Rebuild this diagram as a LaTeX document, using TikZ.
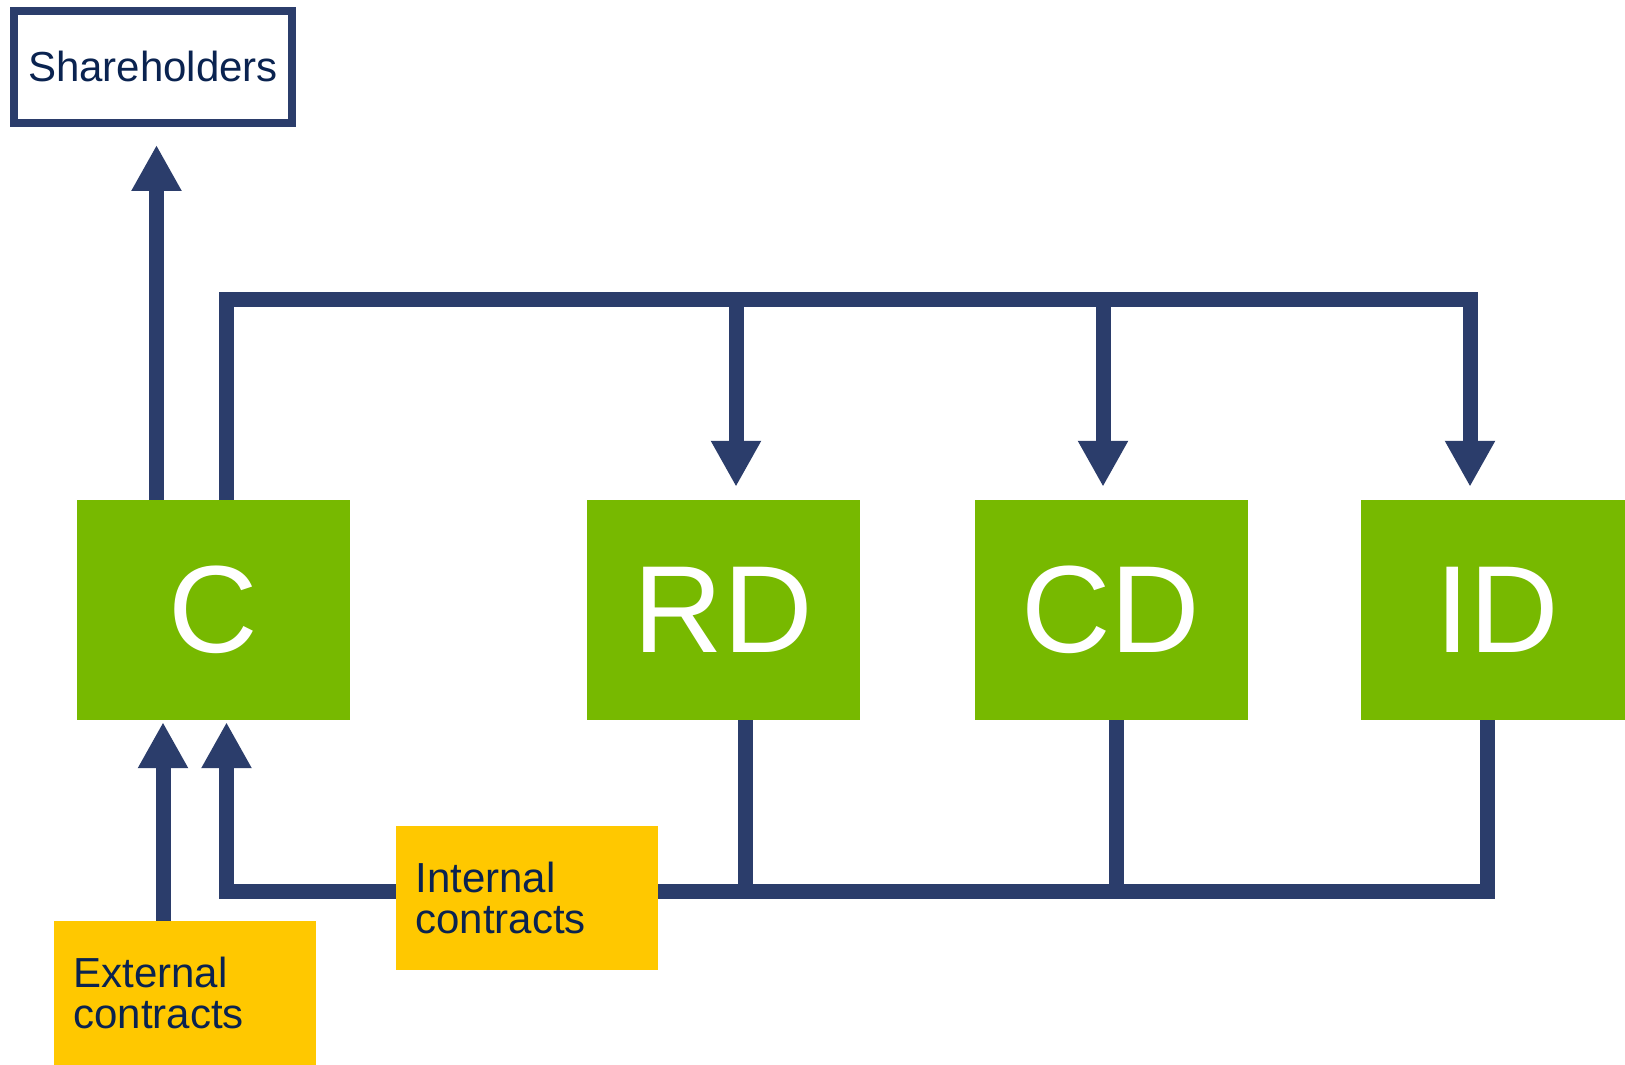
\documentclass[tikz,border=0pt]{standalone}
\usepackage{fontspec}
\setmainfont{Liberation Sans}
\usetikzlibrary{arrows.meta,calc}
\definecolor{linenavy}{RGB}{43,61,107}
\definecolor{textnavy}{RGB}{10,35,80}
\definecolor{unitgreen}{RGB}{119,185,0}
\definecolor{contractyellow}{RGB}{255,200,0}

\begin{document}
\begin{tikzpicture}[x=1pt, y=1pt,
    unit/.style={fill=unitgreen, text=white, minimum width=273pt, minimum height=220pt,
        inner sep=0pt, font=\fontsize{124pt}{124pt}\selectfont},
    contract/.style={fill=contractyellow, text=textnavy, text width=222pt, inner xsep=20pt,
        inner ysep=0pt, minimum height=144pt, align=left, font=\fontsize{42pt}{41pt}\selectfont},
    bus/.style={draw=linenavy, line width=15pt, line join=miter},
    flow/.style={bus, -{Triangle[width=47pt, length=46pt]}}]
    \path[use as bounding box, fill=white] (0,0) rectangle (1625,1065);

    % business units
    \node[unit] (C) at (213.5,455) {C};
    \node[unit] (RD) at (723.5,455) {RD};
    \node[unit] (CD) at (1111,455) {CD};
    \node[unit] (ID) at (1497.5,455) {ID};
    \node[draw=linenavy, line width=8pt, minimum width=278pt, minimum height=112pt, inner sep=0pt,
        text=textnavy, font=\fontsize{42pt}{42pt}\selectfont] (share) at (153,998) {Shareholders};

    % C to shareholders
    \draw[flow] ([xshift=-57pt]C.north) -- ([xshift=3.5pt, yshift=-18pt]share.south);

    % top bus
    \coordinate (topleft) at ($(C.north)+(12.5,200)$);
    \draw[flow] ([xshift=12.5pt]C.north) -- (topleft) -| ([xshift=-27.5pt, yshift=13pt]ID.north);
    \foreach \unit/\dx in {RD/12.5, CD/-8} {
        \coordinate (\unit-in) at ([xshift=\dx pt, yshift=13pt]\unit.north);
        \draw[flow] (\unit-in |- topleft) -- (\unit-in);
    }

    % bottom bus
    \coordinate (botleft) at ($(C.south)+(13,-171)$);
    \draw[flow] ([xshift=-10.5pt]ID.south) |- (botleft) -- ([xshift=13pt, yshift=-2pt]C.south);
    \foreach \unit/\dx in {RD/21.5, CD/5}
        \draw[bus] ([xshift=\dx pt]\unit.south) -- ++(0,-178.5);

    % contracts
    \node[contract] (internal) at (526.5,167) {Internal\\contracts};
    \node[contract] (external) at (184.5,72) {External\\contracts};
    \draw[flow] ([xshift=-21.5pt]external.north) -- ([xshift=-50.5pt, yshift=-2pt]C.south);
\end{tikzpicture}
\end{document}
